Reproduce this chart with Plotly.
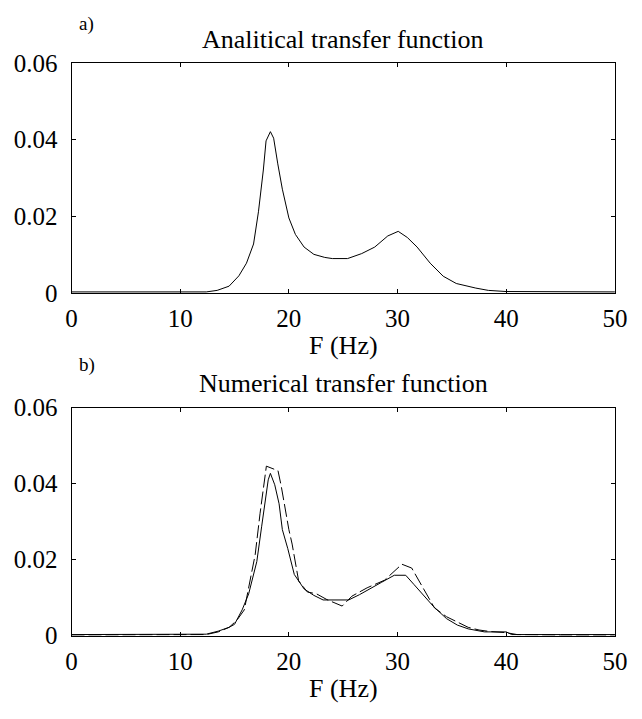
import plotly.graph_objects as go

# Panel a: analytical transfer function
freq_a = [0, 5, 10, 12.4, 13.4, 14.5, 15.4, 16.1, 16.75, 17.2, 17.65, 17.9, 18.3, 18.6, 18.98,
          19.4, 20.0, 20.6, 21.4, 22.3, 23.3, 24.0, 25.4, 26.7, 27.9, 29.1, 30.06, 30.9, 31.8,
          33.0, 34.2, 35.4, 37.2, 38.35, 40, 45, 50]
amp_a = [0.0003, 0.0003, 0.0003, 0.0003, 0.0007, 0.0018, 0.0045, 0.0078, 0.0128, 0.0212, 0.0321,
         0.0397, 0.0421, 0.0404, 0.0337, 0.0271, 0.0196, 0.0153, 0.0120, 0.0101, 0.0093, 0.0090,
         0.0090, 0.0103, 0.0120, 0.0149, 0.0161, 0.0145, 0.0120, 0.0078, 0.0044, 0.0025, 0.0013,
         0.0007, 0.0004, 0.0003, 0.0003]

# Panel b: numerical transfer function (solid)
freq_b = [0, 10, 12.4, 13.5, 14.5, 15.0, 15.7, 16.3, 17.05, 17.5, 17.8, 18.1, 18.3, 18.7, 19.1,
          19.4, 19.9, 20.5, 21.4, 22.3, 23.15, 23.7, 25.5, 26.5, 27.5, 28.5, 29.7, 30.75, 31.5,
          32.3, 33.3, 34.5, 35.5, 36.5, 37.5, 38.0, 40.0, 40.5, 45, 50]
amp_b = [0.0003, 0.0003, 0.0004, 0.0012, 0.0022, 0.0030, 0.0068, 0.0110, 0.0195, 0.0288, 0.0355,
         0.0410, 0.0427, 0.0397, 0.0347, 0.0279, 0.0229, 0.0161, 0.0123, 0.0106, 0.0094, 0.0094,
         0.0094, 0.0108, 0.0125, 0.0140, 0.0159, 0.0159, 0.0135, 0.0108, 0.0077, 0.0045, 0.0028,
         0.0018, 0.0012, 0.0010, 0.0010, 0.0003, 0.0003, 0.0003]

# Panel b: dashed curve
freq_c = [0, 10, 12.4, 13.5, 14.5, 15.2, 15.9, 16.6, 16.9, 17.35, 17.6, 17.93, 19.0, 19.3, 20.0,
          20.3, 20.9, 21.7, 22.55, 23.5, 24.9, 25.8, 27.2, 28.8, 30.4, 31.3, 32.3, 33.4, 34.5,
          35.5, 36.5, 37.5, 38.5, 40.0, 41.0, 45, 50]
amp_c = [0.0002, 0.0002, 0.0003, 0.0010, 0.0022, 0.0040, 0.0068, 0.0170, 0.0213, 0.0322, 0.0377,
         0.0446, 0.0434, 0.0393, 0.0279, 0.0241, 0.0144, 0.0115, 0.0110, 0.0095, 0.0078, 0.0104,
         0.0126, 0.0146, 0.0188, 0.0178, 0.0128, 0.0073, 0.0050, 0.0035, 0.0022, 0.0015, 0.0011,
         0.0008, 0.0003, 0.0002, 0.0002]

x_ticks = [0, 10, 20, 30, 40, 50]
y_ticks = [0, 0.02, 0.04, 0.06]
y_ticktext = ["0", "0.02", "0.04", "0.06"]

FONT = "Liberation Serif"
W, H = 642, 719
TICK_SIZE = 25
TITLE_SIZE = 26

fig = go.Figure()
fig.add_trace(go.Scatter(x=freq_a, y=amp_a, mode="lines", line=dict(color="black", width=1),
                         xaxis="x", yaxis="y", showlegend=False))
fig.add_trace(go.Scatter(x=freq_c, y=amp_c, mode="lines",
                         line=dict(color="black", width=1, dash="13px,4px"),
                         xaxis="x2", yaxis="y2", showlegend=False))
fig.add_trace(go.Scatter(x=freq_b, y=amp_b, mode="lines", line=dict(color="black", width=1),
                         xaxis="x2", yaxis="y2", showlegend=False))

xdom = [67.5 / W, 627.5 / W]
ydom_a = [1 - 291 / H, 1 - 52 / H]
ydom_b = [1 - 647 / H, 1 - 410 / H]

def xax(anchor):
    return dict(domain=xdom, anchor=anchor, range=[0, 50], tickvals=x_ticks,
                ticks="inside", ticklen=4, tickcolor="black", showline=True, linecolor="black",
                linewidth=1, mirror="allticks", showgrid=False, zeroline=False,
                tickfont=dict(family=FONT, size=TICK_SIZE, color="black"), ticklabelstandoff=3)

def yax(anchor, dom):
    return dict(domain=dom, anchor=anchor, range=[0, 0.06], tickvals=y_ticks, ticktext=y_ticktext,
                ticks="inside", ticklen=4, tickcolor="black", showline=True, linecolor="black",
                linewidth=1, mirror="allticks", showgrid=False, zeroline=False,
                tickfont=dict(family=FONT, size=TICK_SIZE, color="black"), ticklabelstandoff=8)

def txt(text, x, y_px, size, anchor="center"):
    return dict(text=text, x=x, y=1 - y_px / H, xref="paper", yref="paper", showarrow=False,
                xanchor=anchor, yanchor="middle", font=dict(family=FONT, size=size, color="black"))

xmid = (xdom[0] + xdom[1]) / 2
fig.update_layout(
    width=W, height=H, margin=dict(l=0, r=0, t=0, b=0),
    paper_bgcolor="white", plot_bgcolor="white",
    xaxis=xax("y"), yaxis=yax("x", ydom_a),
    xaxis2=xax("y2"), yaxis2=yax("x2", ydom_b),
    annotations=[
        txt("Analitical transfer function", xmid, 28, TITLE_SIZE),
        txt("a)", 73 / W, 11, 19, "left"),
        txt("F (Hz)", xmid, 345, TITLE_SIZE),
        txt("Numerical transfer function", xmid, 385, TITLE_SIZE),
        txt("b)", 73 / W, 366, 19, "left"),
        txt("F (Hz)", xmid, 702, TITLE_SIZE),
    ],
)

fig.write_html("out.html")
